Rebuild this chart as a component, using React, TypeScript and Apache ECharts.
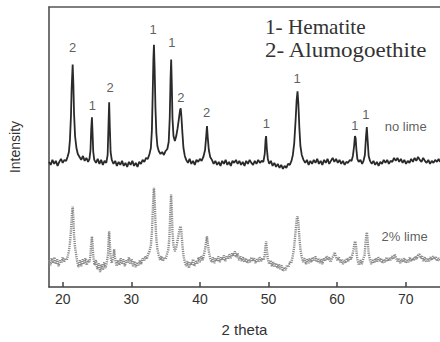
import { useEffect, useRef } from "react";
import * as echarts from "echarts";

// 2-theta vs intensity (a.u.)
const noLime: [number, number][] = [
  [18.0, 126], [18.25, 123], [18.5, 128], [18.75, 124], [19.0, 127], [19.25, 122], [19.5, 126], [19.75, 129],
  [20.0, 125], [20.25, 128], [20.5, 127], [20.7, 131], [20.9, 136], [21.05, 148], [21.2, 172], [21.3, 200],
  [21.45, 224], [21.55, 205], [21.65, 175], [21.8, 152], [22.0, 140], [22.2, 134], [22.45, 131], [22.7, 128],
  [22.95, 132], [23.2, 127], [23.45, 130], [23.7, 126], [23.9, 129], [24.05, 138], [24.15, 158], [24.26, 171],
  [24.35, 155], [24.45, 136], [24.6, 128], [24.85, 125], [25.1, 129], [25.35, 124], [25.6, 128], [25.85, 123],
  [26.1, 127], [26.35, 125], [26.55, 133], [26.68, 165], [26.77, 186], [26.87, 160], [26.98, 136], [27.15, 128],
  [27.4, 124], [27.65, 127], [27.9, 122], [28.15, 126], [28.4, 123], [28.65, 127], [28.9, 122], [29.15, 125],
  [29.4, 121], [29.65, 126], [29.9, 123], [30.15, 127], [30.4, 122], [30.65, 125], [30.9, 121], [31.15, 126],
  [31.4, 124], [31.65, 128], [31.9, 126], [32.15, 130], [32.4, 129], [32.65, 134], [32.85, 140], [33.0, 158],
  [33.12, 195], [33.22, 230], [33.3, 244], [33.4, 220], [33.52, 180], [33.65, 155], [33.8, 142], [34.0, 137],
  [34.25, 134], [34.5, 136], [34.75, 133], [35.0, 137], [35.25, 139], [35.45, 146], [35.6, 170], [35.72, 210],
  [35.81, 229], [35.9, 205], [36.0, 170], [36.15, 152], [36.35, 147], [36.55, 152], [36.75, 160], [36.95, 170],
  [37.1, 178], [37.2, 180], [37.3, 172], [37.45, 155], [37.6, 140], [37.8, 132], [38.0, 128], [38.25, 125],
  [38.5, 129], [38.75, 124], [39.0, 127], [39.25, 123], [39.5, 128], [39.75, 126], [40.0, 129], [40.25, 127],
  [40.5, 131], [40.75, 138], [40.92, 152], [41.03, 162], [41.15, 150], [41.3, 138], [41.5, 131], [41.75, 128],
  [42.0, 124], [42.25, 127], [42.5, 123], [42.75, 126], [43.0, 122], [43.25, 127], [43.5, 124], [43.75, 128],
  [44.0, 123], [44.25, 126], [44.5, 122], [44.75, 127], [45.0, 125], [45.25, 128], [45.5, 124], [45.75, 127],
  [46.0, 123], [46.25, 126], [46.5, 122], [46.75, 127], [47.0, 124], [47.25, 128], [47.5, 125], [47.75, 123],
  [48.0, 127], [48.25, 124], [48.5, 128], [48.75, 125], [49.0, 127], [49.25, 126], [49.45, 134], [49.57, 148],
  [49.65, 152], [49.75, 140], [49.9, 129], [50.1, 124], [50.35, 127], [50.6, 122], [50.85, 125], [51.1, 121],
  [51.35, 124], [51.6, 120], [51.85, 123], [52.1, 119], [52.35, 122], [52.6, 120], [52.85, 124], [53.1, 123],
  [53.35, 127], [53.55, 133], [53.75, 145], [53.95, 168], [54.1, 188], [54.23, 197], [54.35, 185], [54.5, 160],
  [54.65, 142], [54.85, 133], [55.1, 128], [55.35, 125], [55.6, 128], [55.85, 123], [56.1, 127], [56.35, 124],
  [56.6, 128], [56.85, 125], [57.1, 129], [57.35, 124], [57.6, 127], [57.85, 123], [58.1, 128], [58.35, 125],
  [58.6, 129], [58.85, 124], [59.1, 127], [59.35, 130], [59.6, 126], [59.85, 129], [60.1, 125], [60.35, 128],
  [60.6, 124], [60.85, 127], [61.1, 123], [61.35, 126], [61.6, 125], [61.85, 128], [62.1, 127], [62.3, 132],
  [62.48, 142], [62.6, 152], [62.7, 150], [62.82, 138], [62.95, 129], [63.15, 126], [63.4, 128], [63.65, 124],
  [63.85, 127], [64.05, 133], [64.2, 150], [64.33, 161], [64.45, 148], [64.6, 132], [64.8, 127], [65.05, 124],
  [65.3, 127], [65.55, 123], [65.8, 126], [66.05, 122], [66.3, 126], [66.55, 124], [66.8, 128], [67.05, 125],
  [67.3, 128], [67.55, 124], [67.8, 127], [68.05, 126], [68.3, 130], [68.55, 127], [68.8, 130], [69.05, 126],
  [69.3, 129], [69.55, 125], [69.8, 128], [70.05, 124], [70.3, 127], [70.55, 125], [70.8, 129], [71.05, 126],
  [71.3, 130], [71.55, 127], [71.8, 131], [72.05, 128], [72.3, 126], [72.55, 130], [72.8, 127], [73.05, 125],
  [73.3, 128], [73.55, 124], [73.8, 127], [74.05, 125], [74.3, 128], [74.55, 126], [74.8, 129], [75.0, 126],
];

const lime2: [number, number][] = [
  [18.0, 27], [18.2, 22], [18.4, 29], [18.6, 24], [18.8, 30], [19.0, 23], [19.2, 28], [19.4, 21], [19.6, 27],
  [19.8, 24], [20.0, 30], [20.2, 25], [20.4, 29], [20.6, 27], [20.8, 33], [20.95, 38], [21.1, 48], [21.25, 62],
  [21.35, 74], [21.45, 81], [21.55, 70], [21.65, 52], [21.8, 40], [21.95, 33], [22.1, 26], [22.3, 20], [22.5, 27],
  [22.7, 21], [22.9, 28], [23.1, 23], [23.3, 29], [23.5, 22], [23.7, 27], [23.9, 25], [24.05, 32], [24.15, 44],
  [24.26, 51], [24.36, 42], [24.48, 29], [24.65, 22], [24.85, 27], [25.05, 18], [25.25, 24], [25.45, 15],
  [25.65, 23], [25.85, 17], [26.05, 25], [26.25, 19], [26.45, 26], [26.6, 33], [26.7, 48], [26.77, 56],
  [26.86, 45], [26.98, 30], [27.15, 24], [27.35, 30], [27.5, 38], [27.65, 28], [27.85, 21], [28.05, 27],
  [28.25, 22], [28.45, 29], [28.65, 23], [28.85, 28], [29.05, 21], [29.25, 27], [29.45, 24], [29.65, 30],
  [29.85, 23], [30.05, 28], [30.25, 21], [30.45, 26], [30.65, 20], [30.85, 25], [31.05, 22], [31.25, 27],
  [31.45, 23], [31.65, 29], [31.85, 26], [32.05, 31], [32.25, 28], [32.45, 33], [32.65, 36], [32.85, 42],
  [33.0, 55], [33.12, 75], [33.22, 92], [33.3, 100], [33.4, 88], [33.52, 65], [33.65, 48], [33.8, 38],
  [34.0, 32], [34.2, 27], [34.4, 31], [34.6, 26], [34.8, 30], [35.0, 28], [35.2, 33], [35.4, 38], [35.55, 50],
  [35.68, 75], [35.8, 93], [35.9, 78], [36.0, 55], [36.15, 42], [36.35, 36], [36.55, 40], [36.75, 47],
  [36.95, 55], [37.1, 60], [37.2, 61], [37.32, 54], [37.45, 42], [37.6, 32], [37.8, 25], [38.0, 21], [38.2, 26],
  [38.4, 19], [38.6, 25], [38.8, 22], [39.0, 28], [39.2, 21], [39.4, 26], [39.6, 23], [39.8, 30], [40.0, 25],
  [40.2, 31], [40.4, 27], [40.6, 33], [40.8, 40], [40.95, 48], [41.03, 51], [41.15, 44], [41.3, 36], [41.5, 29],
  [41.7, 25], [41.9, 30], [42.1, 24], [42.3, 29], [42.5, 26], [42.7, 31], [42.9, 25], [43.1, 30], [43.3, 27],
  [43.5, 32], [43.7, 26], [43.9, 31], [44.1, 28], [44.3, 33], [44.5, 29], [44.7, 34], [44.9, 31], [45.1, 36],
  [45.3, 30], [45.5, 34], [45.7, 27], [45.9, 31], [46.1, 26], [46.3, 30], [46.5, 25], [46.7, 29], [46.9, 24],
  [47.1, 28], [47.3, 25], [47.5, 30], [47.7, 26], [47.9, 29], [48.1, 24], [48.3, 28], [48.5, 25], [48.7, 30],
  [48.9, 26], [49.1, 29], [49.3, 27], [49.45, 33], [49.57, 42], [49.65, 46], [49.75, 38], [49.9, 28], [50.1, 23],
  [50.3, 27], [50.5, 21], [50.7, 25], [50.9, 20], [51.1, 24], [51.3, 19], [51.5, 23], [51.7, 18], [51.9, 22],
  [52.1, 16], [52.3, 20], [52.5, 17], [52.7, 22], [52.9, 20], [53.1, 25], [53.3, 24], [53.5, 30], [53.7, 38],
  [53.9, 52], [54.05, 64], [54.15, 70], [54.23, 71], [54.35, 65], [54.5, 50], [54.65, 38], [54.85, 30],
  [55.05, 25], [55.25, 29], [55.45, 23], [55.65, 28], [55.85, 24], [56.05, 29], [56.25, 25], [56.45, 30],
  [56.65, 26], [56.85, 31], [57.05, 25], [57.25, 29], [57.45, 24], [57.65, 28], [57.85, 23], [58.05, 29],
  [58.25, 26], [58.45, 31], [58.65, 27], [58.85, 30], [59.05, 25], [59.25, 29], [59.45, 31], [59.65, 35],
  [59.85, 30], [60.05, 27], [60.25, 30], [60.45, 25], [60.65, 28], [60.85, 23], [61.05, 27], [61.25, 24],
  [61.45, 29], [61.65, 26], [61.85, 30], [62.05, 28], [62.25, 33], [62.4, 38], [62.52, 44], [62.65, 46],
  [62.75, 42], [62.88, 32], [63.0, 26], [63.2, 22], [63.4, 27], [63.6, 23], [63.8, 28], [64.0, 32], [64.15, 45],
  [64.28, 53], [64.35, 55], [64.45, 47], [64.6, 34], [64.8, 27], [65.0, 23], [65.2, 28], [65.4, 24], [65.6, 29],
  [65.8, 25], [66.0, 30], [66.2, 26], [66.4, 29], [66.6, 24], [66.8, 28], [67.0, 25], [67.2, 30], [67.4, 26],
  [67.6, 29], [67.8, 27], [68.0, 31], [68.2, 28], [68.4, 33], [68.6, 29], [68.8, 26], [69.0, 29], [69.2, 24],
  [69.4, 28], [69.6, 25], [69.8, 29], [70.0, 24], [70.2, 28], [70.4, 25], [70.6, 30], [70.8, 26], [71.0, 29],
  [71.2, 27], [71.4, 31], [71.6, 28], [71.8, 32], [72.0, 33], [72.2, 29], [72.4, 31], [72.6, 26], [72.8, 30],
  [73.0, 25], [73.2, 29], [73.4, 26], [73.6, 30], [73.8, 27], [74.0, 31], [74.2, 28], [74.4, 30], [74.6, 26],
  [74.8, 29], [75.0, 27],
];

const peakLabelX = [21.45, 24.32, 26.92, 33.16, 35.91, 37.22, 40.99, 49.69, 54.18, 62.59, 64.19];
const peakLabelY = [241, 183, 201, 259, 246, 191, 176, 165, 210, 163, 174];
const peakPhase = ["2", "1", "2", "1", "1", "2", "2", "1", "1", "1", "1"];

const traceNames = ["no lime", "2% lime"];
const traceNameX = [70.0, 69.85];
const traceNameY = [162, 51];

const xTicks = [20, 30, 40, 50, 60, 70];
const legendLines = ["1- Hematite", "2- Alumogoethite"];

const X_MIN = 18;
const X_MAX = 75;
const Y_MIN = 0;
const Y_MAX = 282;

export default function App() {
  const ref = useRef<HTMLDivElement>(null);

  useEffect(() => {
    if (!ref.current) return;
    const chart = echarts.init(ref.current, null, { renderer: "svg" });
    const sans = "'Liberation Sans', Arial, sans-serif";
    const serif = "'Liberation Serif', 'Times New Roman', serif";
    const axisColor = "#444";
    const legendScale = [1.06, 1.15];

    chart.setOption({
      animation: false,
      backgroundColor: "#fff",
      grid: { left: 49, right: -2, top: 7, bottom: 53, containLabel: false },
      xAxis: [
        {
          type: "value",
          min: X_MIN,
          max: X_MAX,
          name: "2 theta",
          nameLocation: "middle",
          nameGap: 35,
          nameTextStyle: { fontFamily: sans, fontSize: 15, color: "#333" },
          axisLine: { show: true, lineStyle: { color: axisColor, width: 1.5 } },
          axisTick: { show: true, inside: true, length: 5, customValues: xTicks, lineStyle: { color: axisColor, width: 1.5 } },
          axisLabel: { show: true, customValues: xTicks, margin: 5, fontFamily: sans, fontSize: 14, color: "#333" },
          splitLine: { show: false },
        },
        {
          type: "value",
          position: "top",
          min: X_MIN,
          max: X_MAX,
          axisLine: { show: true, lineStyle: { color: "#555", width: 1.5 } },
          axisTick: { show: false },
          axisLabel: { show: false },
          splitLine: { show: false },
        },
      ],
      yAxis: {
        type: "value",
        min: Y_MIN,
        max: Y_MAX,
        name: "Intensity",
        nameLocation: "middle",
        nameGap: 27,
        nameTextStyle: { fontFamily: sans, fontSize: 14, color: "#333" },
        axisLine: { show: true, lineStyle: { color: axisColor, width: 1.5 } },
        axisTick: { show: false },
        axisLabel: { show: false },
        splitLine: { show: false },
      },
      graphic: legendLines.map((t, i) => ({
        type: "text",
        x: 265,
        y: 17 + i * 23,
        scaleX: legendScale[i],
        silent: true,
        style: {
          text: t,
          font: `20px ${serif}`,
          fill: "#333",
        },
      })),
      series: [
        {
          type: "line",
          data: noLime,
          showSymbol: false,
          symbol: "none",
          lineStyle: { color: "#2a2a2a", width: 1.8 },
          silent: true,
          z: 3,
        },
        {
          type: "line",
          data: lime2,
          showSymbol: false,
          symbol: "none",
          lineStyle: { color: "#8a8a8a", width: 2.4, type: [1.2, 1], cap: "butt" },
          silent: true,
          z: 2,
        },
        {
          type: "scatter",
          data: peakLabelX.map((x, i) => [x, peakLabelY[i], peakPhase[i]]),
          symbolSize: 1,
          itemStyle: { color: "rgba(0,0,0,0)" },
          label: {
            show: true,
            position: "inside",
            formatter: (p: any) => p.data[2],
            fontFamily: sans,
            fontSize: 13,
            color: "#333",
          },
          silent: true,
          z: 4,
        },
        {
          type: "scatter",
          data: traceNameX.map((x, i) => [x, traceNameY[i], traceNames[i]]),
          symbolSize: 1,
          itemStyle: { color: "rgba(0,0,0,0)" },
          label: {
            show: true,
            position: "inside",
            formatter: (p: any) => p.data[2],
            fontFamily: sans,
            fontSize: 13,
            color: "#333",
          },
          silent: true,
          z: 4,
        },
      ],
    });

    return () => chart.dispose();
  }, []);

  return <div ref={ref} style={{ width: 440, height: 342, position: "fixed", left: 0, top: 0 }} />;
}
